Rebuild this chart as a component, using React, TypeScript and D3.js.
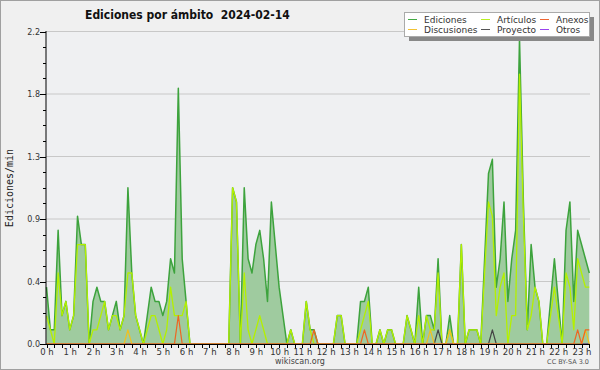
import * as d3 from "d3";

// edits per minute, 10-minute bins from 00:00 to 23:20 (one row per hour)
const ediciones = [
  0.4, 0.1, 0.1, 0.8, 0.2, 0.3,
  0.1, 0.2, 0.9, 0.7, 0.7, 0,
  0.3, 0.4, 0.3, 0.3, 0.1, 0.2,
  0.3, 0.1, 0.2, 1.1, 0.5, 0.2,
  0.1, 0, 0.2, 0.4, 0.3, 0.3,
  0.2, 0.3, 0.6, 0.5, 1.8, 0.6,
  0.3, 0, 0, 0, 0, 0,
  0, 0, 0, 0, 0, 0,
  1.1, 1.0, 0, 1.1, 0.6, 0.5,
  0.7, 0.8, 0.6, 0.3, 1.0, 0.7,
  0.4, 0.2, 0, 0.1, 0, 0,
  0, 0.3, 0.1, 0.1, 0, 0,
  0, 0, 0, 0.2, 0.2, 0,
  0, 0, 0, 0.3, 0.3, 0.4,
  0, 0, 0.1, 0, 0.1, 0.1,
  0, 0, 0, 0.2, 0.1, 0,
  0.4, 0, 0.2, 0.2, 0.1, 0.6,
  0, 0, 0.2, 0, 0, 0.7,
  0, 0.1, 0.1, 0.1, 0, 0.6,
  1.2, 1.3, 0.4, 0.6, 1.0, 0.3,
  0.6, 0.8, 2.15, 1.0, 0.1, 0.7,
  0.4, 0.3, 0, 0, 0.3, 0.6,
  0.3, 0, 0.8, 1.0, 0.3, 0.8,
  0.7, 0.6, 0.5,
];

const articulos = [
  0.2, 0.1, 0, 0.5, 0.2, 0.3,
  0.1, 0.2, 0.7, 0.7, 0.7, 0,
  0.1, 0.1, 0.2, 0.3, 0.1, 0.2,
  0.2, 0.1, 0.2, 0.5, 0.5, 0.2,
  0.1, 0, 0.1, 0.2, 0.2, 0.1,
  0, 0.1, 0.4, 0.2, 0.2, 0.2,
  0.3, 0, 0, 0, 0, 0,
  0, 0, 0, 0, 0, 0,
  1.1, 1.0, 0, 0.5, 0.1, 0,
  0.1, 0.2, 0.1, 0, 0, 0,
  0, 0, 0, 0.1, 0, 0,
  0, 0.3, 0.1, 0, 0, 0,
  0, 0, 0, 0.2, 0.2, 0,
  0, 0, 0, 0.1, 0.2, 0.3,
  0, 0, 0.1, 0, 0.1, 0.1,
  0, 0, 0, 0.2, 0.1, 0,
  0.2, 0, 0.2, 0.1, 0.1, 0.5,
  0, 0, 0.1, 0, 0, 0.7,
  0, 0.1, 0.1, 0.1, 0, 0.5,
  1.0, 0.9, 0.2, 0.4, 0.5, 0,
  0.2, 0.2, 1.9, 0.9, 0.1, 0.2,
  0.4, 0.3, 0, 0, 0.2, 0.4,
  0.2, 0, 0.5, 0.4, 0.1, 0.6,
  0.5, 0.4, 0.4,
];

// the small series, two hours per row
const anexos = [
  0, 0, 0, 0, 0, 0, 0, 0, 0, 0, 0, 0,
  0, 0, 0, 0, 0, 0, 0, 0, 0, 0, 0, 0,
  0, 0, 0, 0, 0, 0, 0, 0, 0, 0, 0.2, 0,
  0, 0, 0, 0, 0, 0, 0, 0, 0, 0, 0, 0,
  0, 0, 0, 0, 0, 0, 0, 0, 0, 0, 0, 0,
  0, 0, 0, 0, 0, 0, 0, 0, 0, 0.1, 0, 0,
  0, 0, 0, 0, 0, 0, 0, 0, 0, 0, 0.1, 0,
  0, 0, 0, 0, 0, 0, 0, 0, 0, 0, 0, 0,
  0, 0, 0, 0, 0, 0, 0, 0, 0, 0, 0, 0,
  0, 0, 0, 0, 0, 0, 0, 0, 0, 0, 0, 0,
  0, 0, 0, 0, 0, 0, 0, 0, 0, 0, 0, 0,
  0, 0, 0, 0, 0, 0.1, 0, 0.1, 0.1,
];

const discusiones = [
  0, 0, 0, 0, 0, 0, 0, 0, 0, 0, 0, 0,
  0, 0, 0, 0, 0, 0, 0, 0, 0, 0.1, 0, 0,
  0, 0, 0, 0, 0, 0, 0, 0, 0, 0, 0, 0,
  0, 0, 0, 0, 0, 0, 0, 0, 0, 0, 0, 0,
  0, 0, 0, 0, 0, 0, 0, 0, 0, 0, 0, 0,
  0, 0, 0, 0, 0, 0, 0, 0, 0, 0, 0, 0,
  0, 0, 0, 0, 0, 0, 0, 0, 0, 0, 0, 0,
  0, 0, 0, 0, 0, 0, 0, 0, 0, 0, 0, 0,
  0, 0, 0, 0.1, 0, 0, 0, 0, 0.1, 0, 0, 0,
  0, 0, 0, 0, 0, 0, 0, 0, 0, 0, 0, 0,
  0, 0, 0, 0, 0, 0, 0, 0, 0, 0, 0, 0,
  0, 0, 0, 0, 0, 0, 0, 0.1, 0,
];

const proyecto = [
  0, 0, 0, 0, 0, 0, 0, 0, 0, 0, 0, 0,
  0, 0, 0, 0, 0, 0, 0, 0, 0, 0, 0, 0,
  0, 0, 0, 0, 0, 0, 0, 0, 0, 0, 0, 0,
  0, 0, 0, 0, 0, 0, 0, 0, 0, 0, 0, 0,
  0, 0, 0, 0, 0, 0, 0, 0, 0, 0, 0, 0,
  0, 0, 0, 0, 0, 0, 0, 0, 0, 0, 0, 0,
  0, 0, 0, 0, 0, 0, 0, 0, 0, 0, 0, 0,
  0, 0, 0, 0, 0, 0, 0, 0, 0, 0, 0, 0,
  0, 0, 0, 0, 0, 0.1, 0, 0, 0, 0, 0, 0,
  0, 0, 0, 0, 0, 0, 0, 0.1, 0, 0, 0, 0,
  0, 0, 0, 0, 0, 0, 0, 0, 0, 0, 0, 0,
  0, 0, 0, 0, 0, 0, 0, 0, 0,
];

const otros = [
  0, 0, 0, 0, 0, 0, 0, 0, 0, 0, 0, 0,
  0, 0, 0, 0, 0, 0, 0, 0, 0, 0, 0, 0,
  0, 0, 0, 0, 0, 0, 0, 0, 0, 0, 0, 0,
  0, 0, 0, 0, 0, 0, 0, 0, 0, 0, 0, 0,
  0, 0, 0, 0, 0, 0, 0, 0, 0, 0, 0, 0,
  0, 0, 0, 0, 0, 0, 0, 0, 0, 0, 0, 0,
  0, 0, 0, 0, 0, 0, 0, 0, 0, 0, 0, 0,
  0, 0, 0, 0, 0, 0, 0, 0, 0, 0, 0, 0,
  0, 0, 0, 0, 0, 0, 0, 0, 0, 0, 0, 0,
  0, 0, 0, 0, 0, 0, 0, 0, 0, 0, 0, 0,
  0, 0, 0, 0, 0, 0, 0, 0, 0, 0, 0, 0,
  0, 0, 0, 0, 0, 0, 0, 0, 0,
];

const yTicks = [0, 0.44, 0.88, 1.32, 1.76, 2.2];
const yTickLabels = ["0.0", "0.4", "0.9", "1.3", "1.8", "2.2"];
const hours = d3.range(0, 24);

const legendItems = [
  { name: "Ediciones", color: "#44aa44", col: 0, row: 0 },
  { name: "Artículos", color: "#b8ee22", col: 1, row: 0 },
  { name: "Anexos", color: "#ee6633", col: 2, row: 0 },
  { name: "Discusiones", color: "#f2c233", col: 0, row: 1 },
  { name: "Proyecto", color: "#555555", col: 1, row: 1 },
  { name: "Otros", color: "#9944ee", col: 2, row: 1 },
];

const W = 600;
const H = 370;
const left = 46;
const right = 590;
const top = 31;
const bottom = 344;
const font = "'DejaVu Sans', sans-serif";

export default function App() {
  const x = d3.scaleLinear().domain([0, 140]).range([46.5, 589.3]);
  const y = d3.scaleLinear().domain([0, 2.2]).range([bottom, top + 0.5]);

  const line = d3
    .line<number>()
    .x((d, i) => x(i))
    .y((d) => y(d));
  const area = d3
    .area<number>()
    .x((d, i) => x(i))
    .y0(y(0))
    .y1((d) => y(d));

  const minorY = d3.range(0, 21).map((i) => i * 0.11);
  const minorX = d3.range(0, 141, 2);

  // drawn under the axes so zero runs hide behind them
  const series = [
    { data: otros, color: "#9944ee", w: 1.2 },
    { data: proyecto, color: "#444444", w: 1.2 },
    { data: discusiones, color: "#f0c020", w: 1.2 },
    { data: anexos, color: "#ee6622", w: 1.2 },
  ];

  const legendCols = [408, 481, 540];

  return (
    <svg
      width={W}
      height={H}
      style={{ position: "absolute", left: 0, top: 0 }}
      fontFamily={font}
    >
      <rect x={0.5} y={0.5} width={W - 1} height={H - 1} fill="#f0f0f0" stroke="#a0a0a0" />
      <rect x={left} y={top} width={right - left} height={bottom - top} fill="#eff0f2" />

      {yTicks.map((t) => (
        <line key={t} x1={left} x2={right} y1={y(t)} y2={y(t)} stroke="#c8c8c8" strokeWidth={1} />
      ))}

      <path d={area(ediciones) ?? ""} fill="#9fcb9f" />
      <path d={line(ediciones) ?? ""} fill="none" stroke="#3da33d" strokeWidth={1.5} strokeLinejoin="round" />
      <path d={line(articulos) ?? ""} fill="none" stroke="#b4f000" strokeWidth={1.3} strokeLinejoin="round" />
      {series.map((s, i) => (
        <path key={i} d={line(s.data) ?? ""} fill="none" stroke={s.color} strokeWidth={s.w} strokeLinejoin="round" />
      ))}

      {/* y axis */}
      <line x1={left} x2={left} y1={top} y2={bottom} stroke="#000" />
      {minorY.map((t, i) => (
        <line
          key={i}
          x1={i % 4 === 0 ? left - 6 : left - 3}
          x2={left}
          y1={Math.round(y(t)) + 0.5}
          y2={Math.round(y(t)) + 0.5}
          stroke="#000"
        />
      ))}
      {yTicks.map((t, i) => (
        <text key={t} x={40} y={y(t) + 3} fontSize={8} textAnchor="end" fill="#333">
          {yTickLabels[i]}
        </text>
      ))}

      {/* x axis */}
      <line x1={left} x2={right} y1={bottom + 0.5} y2={bottom + 0.5} stroke="#000" strokeWidth={1.2} />
      {minorX.map((b) => (
        <line
          key={b}
          x1={Math.round(x(b)) + 0.5}
          x2={Math.round(x(b)) + 0.5}
          y1={bottom}
          y2={bottom + 4}
          stroke="#000"
        />
      ))}
      {hours.map((h) => (
        <text key={h} x={x(h * 6) + 0.5} y={354.5} fontSize={8.5} textAnchor="middle" fill="#333">
          {`${h} h`}
        </text>
      ))}

      <text
        transform={`translate(13,188) rotate(-90)`}
        fontSize={10}
        fontFamily="'DejaVu Sans Mono', monospace"
        textAnchor="middle"
        fill="#222"
      >
        Ediciones/min
      </text>

      <text
        x={85}
        y={18.5}
        fontSize={12}
        fontWeight="bold"
        fontFamily="'DejaVu Sans Condensed', 'DejaVu Sans', sans-serif"
        fill="#111"
        xmlSpace="preserve"
      >
        Ediciones por ámbito  2024-02-14
      </text>

      {/* legend */}
      <rect x={409} y={17} width={185} height={24} fill="#888" />
      <rect x={404.5} y={12.5} width={185} height={24} fill="#fff" stroke="#aaa" />
      {legendItems.map((it) => {
        const lx = legendCols[it.col];
        const ly = 19.5 + it.row * 10;
        return (
          <g key={it.name}>
            <line x1={lx} x2={lx + 9} y1={ly} y2={ly} stroke={it.color} strokeWidth={1} />
            <text x={lx + 16} y={ly + 3.5} fontSize={9} fill="#333">
              {it.name}
            </text>
          </g>
        );
      })}

      <text x={300} y={364} fontSize={8} textAnchor="middle" fill="#444">
        wikiscan.org
      </text>
      <text x={589} y={364} fontSize={6.5} textAnchor="end" fill="#555">
        CC BY-SA 3.0
      </text>
    </svg>
  );
}
